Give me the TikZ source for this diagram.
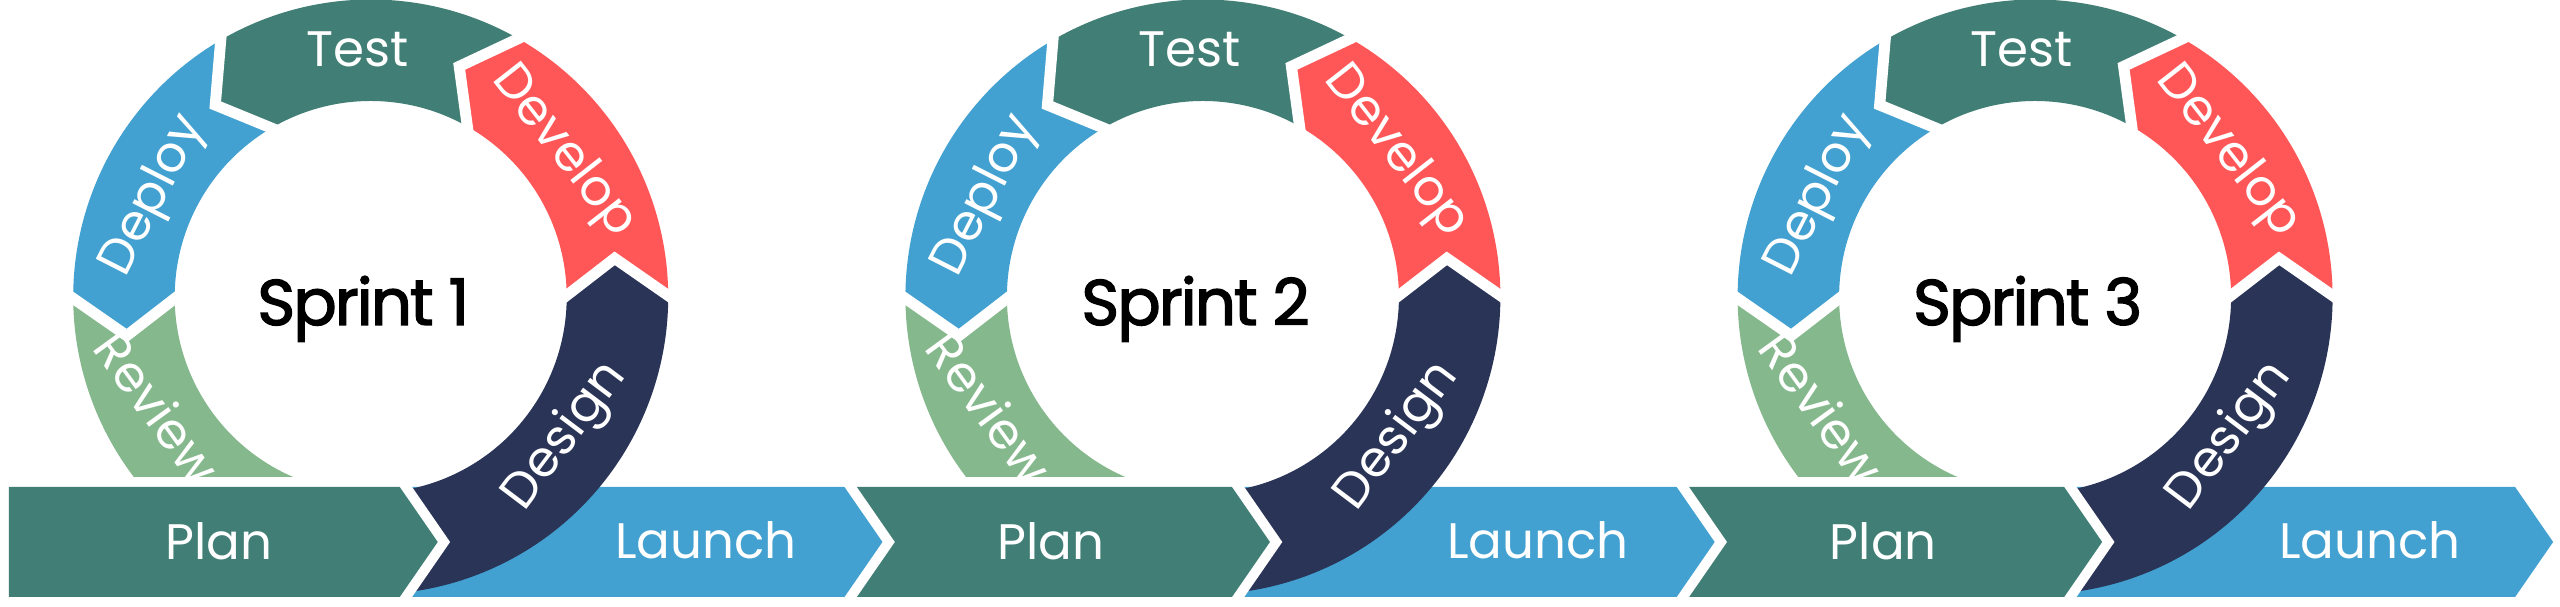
\documentclass[tikz,border=0pt]{standalone}
\usepackage{fontspec}
\setmainfont{Poppins}
\newfontfamily\sprintfont[FakeBold=2.2, LetterSpace=-3]{Poppins}
\definecolor{tealC}{HTML}{417F76}
\definecolor{redC}{HTML}{FF5757}
\definecolor{navyC}{HTML}{2A3457}
\definecolor{blueC}{HTML}{42A1D0}
\definecolor{greenC}{HTML}{85B88C}
\def\Ro{2.975}
\def\Ri{1.96}
\def\Rm{2.47}
\def\dl{9}
\newcommand\ringseg[3]{%
  \fill[#1] (#2:\Ri) -- (#2+\dl:\Rm) -- (#2:\Ro)
    arc[start angle=#2, end angle=#3, radius=\Ro]
    -- (#3+\dl:\Rm) -- (#3:\Ri)
    arc[start angle=#3, end angle=#2, radius=\Ri] -- cycle;}
\newcommand\ringgap[1]{%
  \draw[gapline] (#1:\Ri-0.02) -- (#1+\dl:\Rm) -- (#1:\Ro+0.02);}
\tikzset{
  gapline/.style={draw=white, line width=0.11cm, line cap=rect, line join=miter},
  bargap/.style={draw=white, line width=0.10cm, line cap=rect, line join=miter},
  lab/.style={text=white, font=\fontsize{14.2}{14.2}\selectfont, inner sep=0pt},
  sprintlab/.style={text=black, font=\fontsize{18.3}{18.3}\sprintfont, inner sep=0pt, anchor=base}
}
\begin{document}
\begin{tikzpicture}
\useasboundingbox (0,0) rectangle (25.6,6.07);
\fill[white] (0,0) rectangle (25.6,6.07);
\foreach \k/\cx in {1/3.707,2/12.029,3/20.351} {
  \coordinate (c\k) at (\cx,3.10);
  % Launch bar
  \fill[blueC] (\cx+0.353,1.20) -- (\cx+4.80,1.20) -- (\cx+5.18,0.65) -- (\cx+4.80,0.10)
     -- (\cx+0.353,0.10) -- (\cx+0.733,0.65) -- cycle;
  \begin{scope}[shift={(c\k)}]
    % Design
    \fill[navyC] (-100:\Ri) -- (-100:\Ro) arc[start angle=-100, end angle=0, radius=\Ro]
      -- (\dl:\Rm) -- (0:\Ri) arc[start angle=0, end angle=-100, radius=\Ri] -- cycle;
    \ringseg{redC}{0}{60}
    \ringseg{tealC}{60}{120}
    \ringseg{blueC}{120}{180}
    \begin{scope}
      \clip (-4,-1.80) rectangle (4,4);
      \fill[greenC] (180:\Ri) -- (180+\dl:\Rm) -- (180:\Ro)
        arc[start angle=180, end angle=250, radius=\Ro]
        -- (250:\Ri) arc[start angle=250, end angle=180, radius=\Ri] -- cycle;
    \end{scope}
    \ringgap{0}
    \ringgap{60}
    \ringgap{120}
    \ringgap{180}
  \end{scope}
  % Plan bar
  \ifnum\k=1
    \fill[tealC] (0.09,1.20) -- (\cx+0.353,1.20) -- (\cx+0.733,0.65) -- (\cx+0.353,0.10)
      -- (0.09,0.10) -- cycle;
  \else
    \fill[tealC] (\cx-3.522,1.20) -- (\cx+0.353,1.20) -- (\cx+0.733,0.65) -- (\cx+0.353,0.10)
      -- (\cx-3.522,0.10) -- (\cx-3.142,0.65) -- cycle;
    \draw[bargap] (\cx-3.522,1.20) -- (\cx-3.142,0.65) -- (\cx-3.522,0.10);
  \fi
  \draw[bargap] (\cx+0.353,1.20) -- (\cx+0.733,0.65) -- (\cx+0.353,0.10);
  % labels
  \node[sprintlab] (sprint\k) at (\cx-0.074,2.82) {Sprint \k};
  \node[lab, anchor=base] (plan\k) at (\cx-1.517,0.477) {Plan};
  \node[lab, anchor=base] (launch\k) at (\cx+3.35,0.487) {Launch};
  \node[lab, anchor=base] (test\k) at (\cx-0.132,5.403) {Test};
  \node[lab, rotate=-52] (develop\k) at ([shift={(37:2.41)}]c\k) {Develop};
  \node[lab, rotate=63] (deploy\k) at ([shift={(155:2.39)}]c\k) {Deploy};
  \node[lab, rotate=53] (design\k) at ([shift={(-35.6:2.40)}]c\k) {Design};
  \node[lab, rotate=-54] (review\k) at ([shift={(207.5:2.40)}]c\k) {Review};
}
\end{tikzpicture}
\end{document}
